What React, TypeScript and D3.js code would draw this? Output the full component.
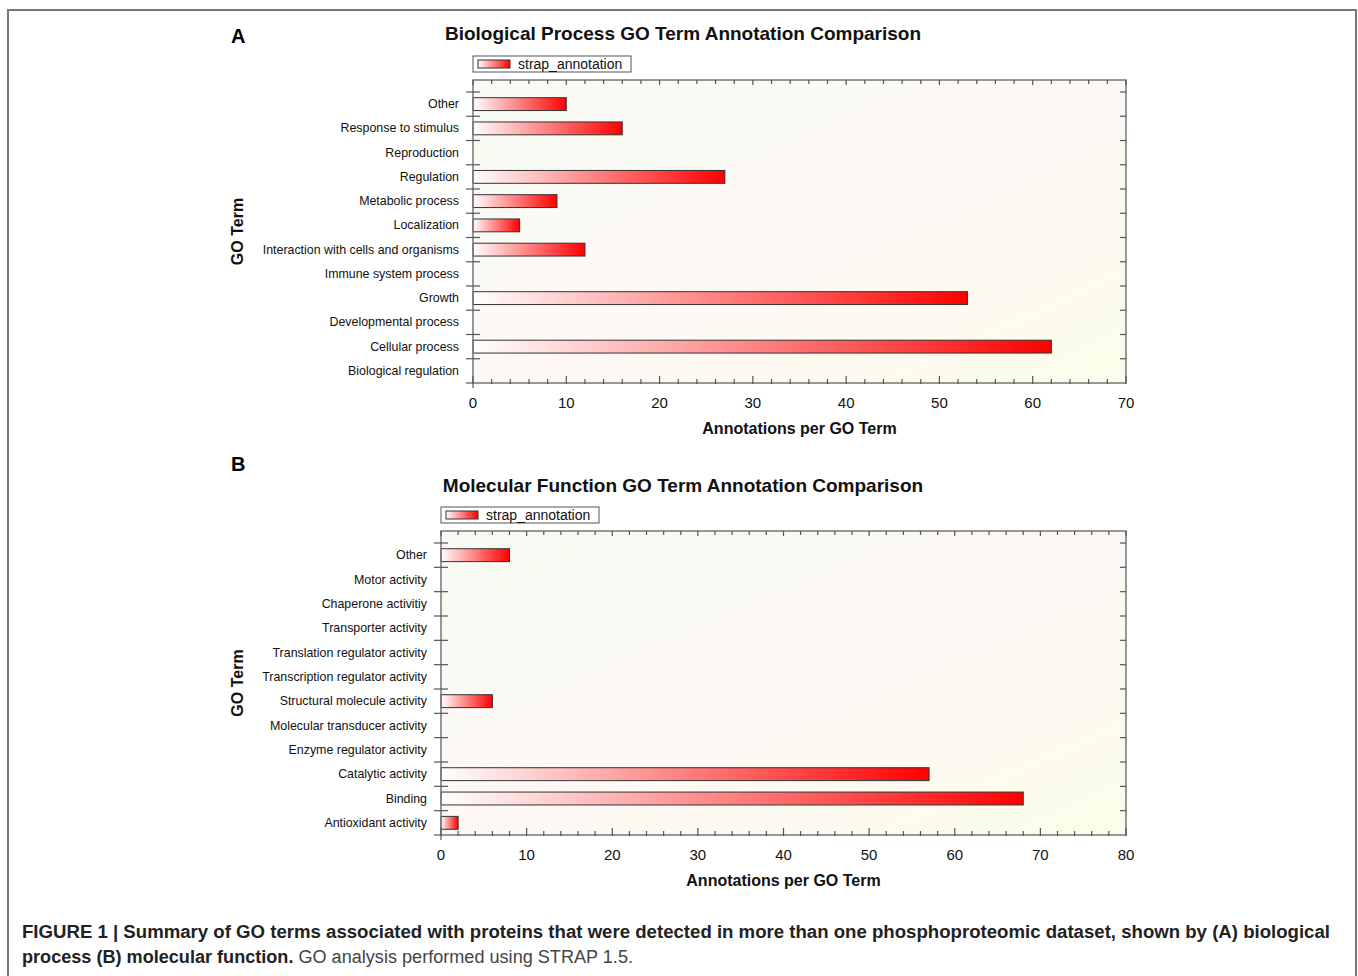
import React from 'react'
import * as d3 from 'd3'

// panel A - biological process (top to bottom as drawn)
const bpTerms = [
  'Other', 'Response to stimulus', 'Reproduction', 'Regulation', 'Metabolic process',
  'Localization', 'Interaction with cells and organisms', 'Immune system process',
  'Growth', 'Developmental process', 'Cellular process', 'Biological regulation',
]
const bpCounts = [10, 16, 0, 27, 9, 5, 12, 0, 53, 0, 62, 0]

// panel B - molecular function
const mfTerms = [
  'Other', 'Motor activity', 'Chaperone activitiy', 'Transporter activity',
  'Translation regulator activity', 'Transcription regulator activity',
  'Structural molecule activity', 'Molecular transducer activity',
  'Enzyme regulator activity', 'Catalytic activity', 'Binding', 'Antioxidant activity',
]
const mfCounts = [8, 0, 0, 0, 0, 0, 6, 0, 0, 57, 68, 2]

const seriesName = 'strap_annotation'
const xLabel = 'Annotations per GO Term'
const yLabel = 'GO Term'

const FONT = "'Liberation Sans', Arial, sans-serif"

function Panel({ id, letter, title, terms, counts, xMax, box, letterY, titleY, legendY }) {
  const { left, right, top, bottom } = box
  const x = d3.scaleLinear().domain([0, xMax]).range([left, right])
  const y = d3.scaleBand().domain(terms).range([top + 12, bottom]).padding(0)
  const bw = y.bandwidth()
  const barH = bw * 0.53
  const minor = d3.range(0, xMax + 0.01, 2)
  const major = x.ticks(xMax / 10)
  const cx = (left + right) / 2

  return (
    <g>
      <defs>
        <linearGradient id={`bg${id}`} x1="0" y1="0" x2="1" y2="1">
          <stop offset="0" stopColor="#f6fbf2" />
          <stop offset="0.5" stopColor="#fef8f5" />
          <stop offset="1" stopColor="#fbfde9" />
        </linearGradient>
        <linearGradient id={`bar${id}`} x1="0" y1="0" x2="1" y2="0">
          <stop offset="0" stopColor="#ffffff" />
          <stop offset="1" stopColor="#ff0000" />
        </linearGradient>
      </defs>

      <text x={231} y={letterY} fontSize={20} fontWeight="bold" fontFamily={FONT}>{letter}</text>
      <text x={683} y={titleY} fontSize={19} fontWeight="bold" fontFamily={FONT} textAnchor="middle" fill="#111">{title}</text>

      {/* legend */}
      <rect x={left} y={legendY} width={158} height={16} fill="#fff" stroke="#555" strokeWidth={1} />
      <rect x={left + 5} y={legendY + 4} width={32} height={8} fill={`url(#bar${id})`} stroke="#333" strokeWidth={1} />
      <text x={left + 45} y={legendY + 13} fontSize={14} fontFamily={FONT} fill="#111">{seriesName}</text>

      {/* plot area */}
      <rect x={left} y={top} width={right - left} height={bottom - top} fill={`url(#bg${id})`} stroke="none" />

      {terms.map((t, i) => counts[i] > 0 && (
        <rect key={t} x={x(0)} y={y(t) + (bw - barH) / 2} width={x(counts[i]) - x(0)} height={barH}
          fill={`url(#bar${id})`} stroke="#333" strokeWidth={1} />
      ))}

      <rect x={left} y={top} width={right - left} height={bottom - top} fill="none" stroke="#777" strokeWidth={1.5} />

      {/* y ticks */}
      {terms.map(t => (
        <g key={t} stroke="#555" strokeWidth={1.2}>
          <line x1={left - 7} x2={left + 7} y1={y(t)} y2={y(t)} />
          <line x1={right - 6} x2={right} y1={y(t)} y2={y(t)} />
        </g>
      ))}
      <line x1={left - 7} x2={left} y1={bottom} y2={bottom} stroke="#555" strokeWidth={1.2} />

      {/* x ticks top & bottom */}
      {minor.map(v => {
        const big = v % 10 === 0
        return (
          <g key={v} stroke="#555" strokeWidth={1.2}>
            <line x1={x(v)} x2={x(v)} y1={bottom - (big ? 7 : 4)} y2={bottom + (v === 0 ? 5 : 1)} />
            <line x1={x(v)} x2={x(v)} y1={top} y2={top + (big ? 5 : 4)} />
          </g>
        )
      })}
      {major.map(v => (
        <text key={v} x={x(v)} y={bottom + 25} fontSize={15} fontFamily={FONT} textAnchor="middle" fill="#111">{v}</text>
      ))}

      {terms.map(t => (
        <text key={t} x={left - 14} y={y(t) + bw / 2 + 4} fontSize={12.4} fontFamily={FONT} textAnchor="end" fill="#111">{t}</text>
      ))}

      <text x={cx} y={bottom + 51} fontSize={16} fontWeight="bold" fontFamily={FONT} textAnchor="middle" fill="#111">{xLabel}</text>
      <text transform={`translate(243,${(top + bottom) / 2}) rotate(-90)`} fontSize={16} fontWeight="bold" fontFamily={FONT} textAnchor="middle" fill="#111">{yLabel}</text>
    </g>
  )
}

export default function App() {
  return (
    <svg width={1358} height={976} style={{ position: 'absolute', left: 0, top: 0, background: '#fff' }}>
      <path d="M8,976 V10 H1356 V976" fill="none" stroke="#777" strokeWidth={2} />

      <Panel id="a" letter="A" title="Biological Process GO Term Annotation Comparison"
        terms={bpTerms} counts={bpCounts} xMax={70}
        box={{ left: 473, right: 1126, top: 80, bottom: 383 }}
        letterY={43} titleY={40} legendY={56} />

      <Panel id="b" letter="B" title="Molecular Function GO Term Annotation Comparison"
        terms={mfTerms} counts={mfCounts} xMax={80}
        box={{ left: 441, right: 1126, top: 531, bottom: 835 }}
        letterY={471} titleY={492} legendY={507} />

      <text x={22} y={938} fontSize={18} fontWeight="bold" fontFamily={FONT} fill="#222"
        textLength={1308} lengthAdjust="spacingAndGlyphs">
        FIGURE 1 | Summary of GO terms associated with proteins that were detected in more than one phosphoproteomic dataset, shown by (A) biological
      </text>
      <text x={22} y={963} fontSize={18} fontFamily={FONT} fill="#222" textLength={611} lengthAdjust="spacingAndGlyphs">
        <tspan fontWeight="bold">process (B) molecular function.</tspan>
        <tspan fill="#444"> GO analysis performed using STRAP 1.5.</tspan>
      </text>
    </svg>
  )
}
